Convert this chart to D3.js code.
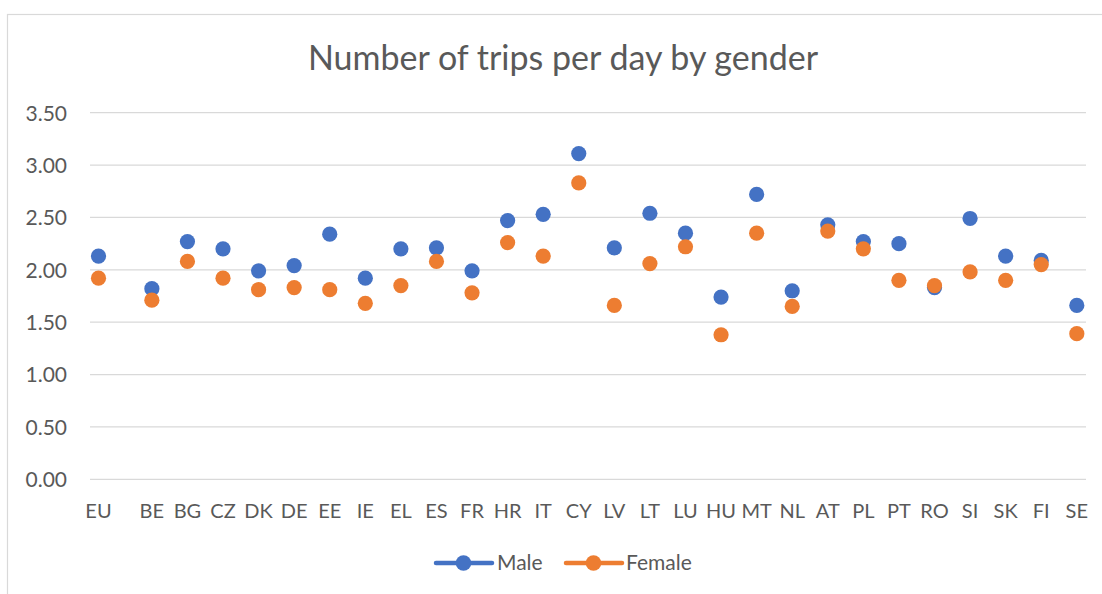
<!DOCTYPE html>
<html>
<head>
<meta charset="utf-8">
<script src="https://cdn.jsdelivr.net/npm/d3@7"></script>
<style>
  html, body { margin: 0; padding: 0; background: #fff; }
  svg { display: block; }
  text { font-family: Lato, "Open Sans", sans-serif; fill: #595959; }
</style>
</head>
<body>
<script>
const title = "Number of trips per day by gender";
const categories = ["EU","BE","BG","CZ","DK","DE","EE","IE","EL","ES","FR","HR","IT","CY","LV","LT","LU","HU","MT","NL","AT","PL","PT","RO","SI","SK","FI","SE"];
const male =   [2.13,1.82,2.27,2.20,1.99,2.04,2.34,1.92,2.20,2.21,1.99,2.47,2.53,3.11,2.21,2.54,2.35,1.74,2.72,1.80,2.43,2.27,2.25,1.83,2.49,2.13,2.09,1.66];
const female = [1.92,1.71,2.08,1.92,1.81,1.83,1.81,1.68,1.85,2.08,1.78,2.26,2.13,2.83,1.66,2.06,2.22,1.38,2.35,1.65,2.37,2.20,1.90,1.85,1.98,1.90,2.05,1.39];
const yTicks = [0, 0.5, 1, 1.5, 2, 2.5, 3, 3.5];
const seriesNames = ["Male", "Female"];
const colors = ["#4472C4", "#ED7D31"];

const W = 1102, H = 594;
const plot = { left: 90, right: 1086, top: 112.7, bottom: 479.3 };

const svg = d3.select("body").append("svg").attr("width", W).attr("height", H);

// chart border
svg.append("rect").attr("x", 7.5).attr("y", 14.5).attr("width", 1130).attr("height", 640)
  .attr("fill", "none").attr("stroke", "#D9D9D9").attr("stroke-width", 1.2);

// title
svg.append("text").attr("x", 563).attr("y", 70).attr("text-anchor", "middle")
  .style("font-size", "34px").text(title);

const y = d3.scaleLinear().domain([0, 3.5]).range([plot.bottom, plot.top]);
// slot positions: a half-slot gap separates the EU aggregate from the countries
const slot = i => i === 0 ? 0 : i + 0.5;
const x = d3.scaleLinear().domain([0, slot(categories.length - 1)]).range([98.5, 1076.8]);

// gridlines
svg.append("g").selectAll("line").data(yTicks).join("line")
  .attr("x1", plot.left).attr("x2", plot.right)
  .attr("y1", d => y(d)).attr("y2", d => y(d))
  .attr("stroke", "#D9D9D9").attr("stroke-width", 1.3);

// y axis labels
const yAxis = d3.axisLeft(y).tickValues(yTicks).tickFormat(d3.format(".2f")).tickSize(0).tickPadding(0);
const gy = svg.append("g").attr("transform", "translate(67,0)").call(yAxis);
gy.select(".domain").remove();
gy.selectAll("text").style("font-size", "21px").attr("fill", "#595959")
  .style("font-family", "Lato, sans-serif").attr("dy", "0.35em");

// x labels
svg.append("g").selectAll("text").data(categories).join("text")
  .attr("x", (d, i) => x(slot(i))).attr("y", 518).attr("text-anchor", "middle")
  .style("font-size", "20px").text(d => d);

// markers
const series = [male, female];
series.forEach((vals, si) => {
  svg.append("g").selectAll("circle").data(vals).join("circle")
    .attr("cx", (d, i) => x(slot(i))).attr("cy", d => y(d)).attr("r", 7.6)
    .attr("fill", colors[si]);
});

// legend
const legendItems = [{ x0: 436, text: 497 }, { x0: 566, text: 626 }];
seriesNames.forEach((name, si) => {
  const g = svg.append("g");
  const ly = 563;
  g.append("line").attr("x1", legendItems[si].x0).attr("x2", legendItems[si].x0 + 56)
    .attr("y1", ly).attr("y2", ly).attr("stroke", colors[si]).attr("stroke-width", 4.5)
    .attr("stroke-linecap", "round");
  g.append("circle").attr("cx", legendItems[si].x0 + 27.5).attr("cy", ly).attr("r", 7.8).attr("fill", colors[si]);
  g.append("text").attr("x", legendItems[si].text).attr("y", ly + 7).style("font-size", "21px").text(name);
});
</script>
</body>
</html>
